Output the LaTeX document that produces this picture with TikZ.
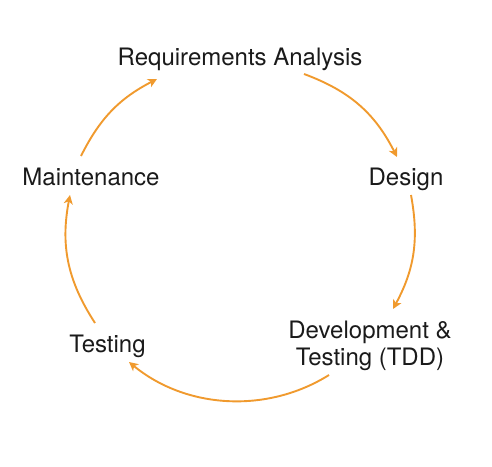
\documentclass[tikz,border=0pt]{standalone}
\usepackage{fontspec}
\setmainfont{TeX Gyre Heros}
\usetikzlibrary{arrows.meta}
\definecolor{flow}{HTML}{F09A2E}
\definecolor{ink}{HTML}{1A1A1A}
\tikzset{
  phase/.style={anchor=base, inner sep=0pt, text=ink, font=\fontsize{24}{27}\selectfont},
  cycle/.style={draw=flow, line width=1.9pt, -{Stealth[length=9pt,width=9pt,inset=2.5pt]}},
}
\begin{document}
\begin{tikzpicture}[x=1pt,y=-1pt]
\useasboundingbox (0,0) rectangle (492,466);
\node[phase] (req) at (240,65) {Requirements Analysis};
\node[phase] (des) at (406,185) {Design};
\node[phase] (mai) at (91,185) {Maintenance};
\node[phase] (tst) at (107.5,352) {Testing};
\node[phase, align=center] (dev) at (370,365) {Development \&\\Testing (TDD)};
% arrow end points on the cycle
\coordinate (s1) at (81,156);  \coordinate (e1) at (157,79);
\coordinate (s2) at (304,74);  \coordinate (e2) at (397,157);
\coordinate (s3) at (411,195); \coordinate (e3) at (393,309);
\coordinate (s4) at (329,375); \coordinate (e4) at (129,362);
\coordinate (s5) at (95,323);  \coordinate (e5) at (70,195);
\draw[cycle] (s1) to[bend left=18] (e1);
\draw[cycle] (s2) to[bend left=21.5] (e2);
\draw[cycle] (s3) to[bend left=19.4] (e3);
\draw[cycle, looseness=0.94] (s4) to[bend left=35.7] (e4);
\draw[cycle] (s5) to[bend left=22] (e5);
\end{tikzpicture}
\end{document}
